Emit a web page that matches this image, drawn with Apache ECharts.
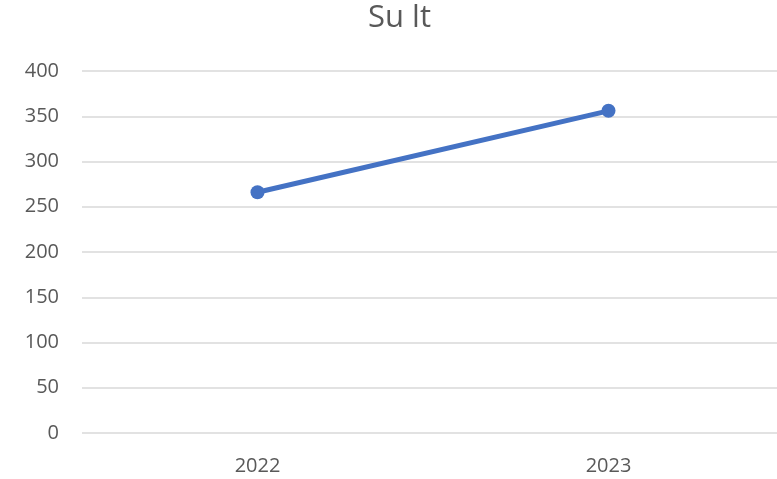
<!DOCTYPE html>
<html lang="en">
<head>
    <meta charset="UTF-8">
    <title>index</title>
    <script src="https://cdn.jsdelivr.net/npm/echarts@6/dist/echarts.min.js"></script>
    <style>
        html, body { margin: 0; padding: 0; background: #fff; }
        #chart { width: 777px; height: 479px; }
    </style>
</head>
<body>
<div id="chart"></div>
<script>
    var years = ['2022', '2023'];
    var values = [266, 356];

    var chart = echarts.init(document.getElementById('chart'));
    chart.setOption({
        animation: false,
        title: {
            text: 'Su lt',
            left: 363,
            top: -2,
            textStyle: { fontFamily: 'Open Sans', fontSize: 31, fontWeight: 'normal', color: '#595959' }
        },
        // plot area runs a little past the right edge of the picture
        grid: { left: 82, width: 702, top: 71, height: 362, containLabel: false, outerBoundsMode: 'none' },
        xAxis: {
            type: 'category',
            data: years,
            axisLine: { show: false },
            axisTick: { show: false },
            axisLabel: { fontFamily: 'Open Sans', fontSize: 20, color: '#595959', margin: 23 }
        },
        yAxis: {
            type: 'value',
            min: 0,
            max: 400,
            interval: 50,
            axisLine: { show: false },
            axisTick: { show: false },
            axisLabel: { fontFamily: 'Open Sans', fontSize: 20, color: '#595959', margin: 23 },
            splitLine: { lineStyle: { color: '#d9d9d9', width: 1.5 } }
        },
        series: [{
            type: 'line',
            data: values,
            symbol: 'circle',
            symbolSize: 14,
            lineStyle: { color: '#4472C4', width: 5 },
            itemStyle: { color: '#4472C4' }
        }]
    });
</script>
</body>
</html>
